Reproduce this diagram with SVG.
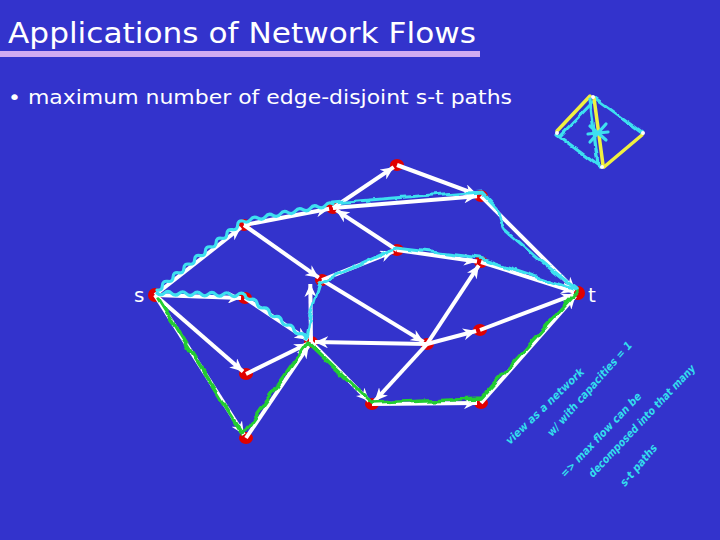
<svg xmlns="http://www.w3.org/2000/svg" width="720" height="540" viewBox="0 0 720 540">
<defs>
<style>
.title{font-family:"DejaVu Sans","Liberation Sans",sans-serif;fill:#fff;}
.e{stroke:#fff;stroke-width:4;fill:none;marker-end:url(#ah);}
.n{fill:#e00000;}
.cy{stroke:#3ee0f0;stroke-width:3.2;fill:none;stroke-linejoin:round;stroke-linecap:round;}
.gr{stroke:#22cc33;stroke-width:3.5;fill:none;stroke-linejoin:round;stroke-linecap:round;}
.ye{stroke:#f0f040;stroke-width:3.5;fill:none;stroke-linecap:round;}
.hw{font-family:"DejaVu Sans",sans-serif;font-size:11px;font-style:italic;font-weight:bold;fill:#33ddee;}
</style>
<marker id="ah" markerUnits="userSpaceOnUse" markerWidth="14" markerHeight="12" refX="13" refY="6" orient="auto">
<path d="M0,0 L13,6 L0,12 L4,6 z" fill="#fff"/>
</marker>
<filter id="wob" filterUnits="userSpaceOnUse" x="0" y="0" width="720" height="540">
<feTurbulence type="fractalNoise" baseFrequency="0.07" numOctaves="1" seed="5" result="t"/>
<feDisplacementMap in="SourceGraphic" in2="t" scale="9" xChannelSelector="R" yChannelSelector="G"/>
</filter>
<filter id="wob2" filterUnits="userSpaceOnUse" x="0" y="0" width="720" height="540">
<feTurbulence type="fractalNoise" baseFrequency="0.1" numOctaves="1" seed="2" result="t"/>
<feDisplacementMap in="SourceGraphic" in2="t" scale="5" xChannelSelector="R" yChannelSelector="G"/>
</filter>
</defs>
<rect width="720" height="540" fill="#3333cc"/>
<text class="title" x="8" y="43" font-size="29" textLength="468" lengthAdjust="spacingAndGlyphs">Applications of Network Flows</text>
<rect x="0" y="51" width="480" height="6" fill="#d0aaf2"/>
<text class="title" x="8" y="104" font-size="20" textLength="504" lengthAdjust="spacingAndGlyphs">• maximum number of edge-disjoint s-t paths</text>

<g id="mini">
<path class="ye" d="M557,131 L590,96"/>
<path class="cy" d="M560,136 L594,101" filter="url(#wob2)"/>
<path class="cy" d="M595,98 L642,132" filter="url(#wob2)"/>
<path class="cy" d="M557,135 L600,167" filter="url(#wob2)"/>
<path class="ye" d="M642,135 L604,167"/>
<path class="ye" d="M594,98 L603,165"/>
<path class="cy" d="M590,99 L598,165" filter="url(#wob2)"/>
<path class="cy" d="M590,126 L606,140 M606,124 L590,142 M588,134 L608,132"/>
<circle cx="593" cy="97" r="2" fill="#fff"/>
<circle cx="557" cy="133" r="2" fill="#fff"/>
<circle cx="643" cy="133" r="2" fill="#fff"/>
<circle cx="602" cy="167" r="2" fill="#fff"/>
</g>

<g id="nodes">
<g id="s"><ellipse class="n" cx="155" cy="295" rx="7" ry="7"/><text class="title" x="134" y="302" font-size="20">s</text></g>
<g id="A"><ellipse class="n" cx="244" cy="225" rx="7" ry="6"/></g>
<g id="B"><ellipse class="n" cx="333" cy="208" rx="7" ry="6"/></g>
<g id="C"><ellipse class="n" cx="397" cy="165" rx="7" ry="6"/></g>
<g id="D"><ellipse class="n" cx="481" cy="196" rx="7" ry="6"/></g>
<g id="E"><ellipse class="n" cx="397" cy="250" rx="7" ry="6"/></g>
<g id="F"><ellipse class="n" cx="481" cy="262" rx="7" ry="6"/></g>
<g id="G"><ellipse class="n" cx="322" cy="280" rx="7" ry="6"/></g>
<g id="t"><ellipse class="n" cx="578" cy="293" rx="7" ry="7"/><text class="title" x="588" y="302" font-size="20">t</text></g>
<g id="H"><ellipse class="n" cx="245" cy="298" rx="7" ry="6"/></g>
<g id="I"><ellipse class="n" cx="311" cy="342" rx="7" ry="6"/></g>
<g id="J"><ellipse class="n" cx="246" cy="374" rx="7" ry="6"/></g>
<g id="K"><ellipse class="n" cx="246" cy="438" rx="7" ry="6"/></g>
<g id="L"><ellipse class="n" cx="427" cy="344" rx="7" ry="6"/></g>
<g id="M"><ellipse class="n" cx="480" cy="330" rx="7" ry="6"/></g>
<g id="N"><ellipse class="n" cx="372" cy="404" rx="7" ry="6"/></g>
<g id="O"><ellipse class="n" cx="481" cy="403" rx="7" ry="6"/></g>
</g>

<g id="edges">
<line class="e" x1="155" y1="295" x2="240.9" y2="227.5"/>
<line class="e" x1="244" y1="225" x2="329.1" y2="208.8"/>
<line class="e" x1="333" y1="208" x2="393.7" y2="167.2"/>
<line class="e" x1="397" y1="165" x2="477.2" y2="194.6"/>
<line class="e" x1="333" y1="208" x2="477" y2="196.3"/>
<line class="e" x1="397" y1="250" x2="336.3" y2="210.2"/>
<line class="e" x1="244" y1="225" x2="318.7" y2="277.7"/>
<line class="e" x1="322" y1="280" x2="393.3" y2="251.5"/>
<line class="e" x1="397" y1="250" x2="477" y2="261.4"/>
<line class="e" x1="481" y1="196" x2="575.2" y2="290.2"/>
<line class="e" x1="481" y1="262" x2="574.2" y2="291.8"/>
<line class="e" x1="427" y1="344" x2="478.8" y2="265.3"/>
<line class="e" x1="322" y1="280" x2="423.6" y2="341.9"/>
<line class="e" x1="427" y1="344" x2="476.1" y2="331"/>
<line class="e" x1="480" y1="330" x2="574.3" y2="294.4"/>
<line class="e" x1="427" y1="344" x2="315" y2="342.1"/>
<line class="e" x1="427" y1="344" x2="374.7" y2="401"/>
<line class="e" x1="311" y1="342" x2="369.2" y2="401.1"/>
<line class="e" x1="372" y1="404" x2="477" y2="403"/>
<line class="e" x1="481" y1="403" x2="575.4" y2="296"/>
<line class="e" x1="155" y1="295" x2="241" y2="297.9"/>
<line class="e" x1="245" y1="298" x2="307.7" y2="339.8"/>
<line class="e" x1="155" y1="295" x2="243" y2="371.4"/>
<line class="e" x1="246" y1="374" x2="307.4" y2="343.8"/>
<line class="e" x1="155" y1="295" x2="243.9" y2="434.6"/>
<line class="e" x1="246" y1="438" x2="308.8" y2="345.3"/>
<line class="e" x1="311" y1="342" x2="310.3" y2="283.9"/>
</g>

<g id="paths">
<path class="cy" d="M157,290 q5.19,0.94 5.375,-4.3125 t5.375,-4.3125 t5.375,-4.3125 t5.375,-4.3125 t5.375,-4.3125 t5.375,-4.3125 t5.375,-4.3125 t5.375,-4.3125 t5.375,-4.3125 t5.375,-4.3125 t5.375,-4.3125 t5.375,-4.3125 t5.375,-4.3125 t5.375,-4.3125 t5.375,-4.3125 t5.375,-4.3125 q4.4,2.73 7.5,-1.417 t7.5,-1.417 t7.5,-1.417 t7.5,-1.417 t7.5,-1.417 t7.5,-1.417 t7.5,-1.417 t7.5,-1.417 t7.5,-1.417 t7.5,-1.417 t7.5,-1.417 t7.5,-1.417"/>
<path class="cy" filter="url(#wob)" d="M333,203 L480,191 L498,210 L505,230 L540,260 L576,289"/>
<path class="cy" d="M157,293 q3.67,3.58 7.333,0.1667 t7.333,0.1667 t7.333,0.1667 t7.333,0.1667 t7.333,0.1667 t7.333,0.1667 t7.333,0.1667 t7.333,0.1667 t7.333,0.1667 t7.333,0.1667 t7.333,0.1667 t7.333,0.1667 q1.03,5.01 6.1,4.3 t6.1,4.3 t6.1,4.3 t6.1,4.3 t6.1,4.3 t6.1,4.3 t6.1,4.3 t6.1,4.3 t6.1,4.3 t6.1,4.3"/>
<path class="cy" filter="url(#wob)" d="M306,338 L310,315 L320,283 L396,248 L481,258 L576,290"/>
<path class="gr" filter="url(#wob)" d="M158,298 L243,434 L308,342 L372,403 L481,399 L577,292"/>
</g>

<g id="notes">
<text class="hw" transform="translate(510,445) rotate(-44)" textLength="104" lengthAdjust="spacingAndGlyphs">view as a network</text>
<text class="hw" transform="translate(552,437) rotate(-48.6)" textLength="122" lengthAdjust="spacingAndGlyphs">w/ with capacities = 1</text>
<text class="hw" transform="translate(565,478) rotate(-46.4)" textLength="112" lengthAdjust="spacingAndGlyphs">=&gt; max flow can be</text>
<text class="hw" transform="translate(593,478) rotate(-46.6)" textLength="150" lengthAdjust="spacingAndGlyphs">decomposed into that many</text>
<text class="hw" transform="translate(625,487) rotate(-49.8)" textLength="51" lengthAdjust="spacingAndGlyphs">s-t paths</text>
</g>
</svg>
